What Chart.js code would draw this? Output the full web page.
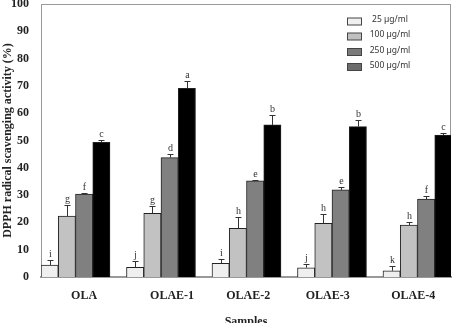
<!DOCTYPE html>
<html>
<head>
<meta charset="utf-8">
<script src="https://cdn.jsdelivr.net/npm/chart.js@4"></script>
<style>
  html, body { margin: 0; padding: 0; background: #fff; }
  canvas { display: block; }
</style>
</head>
<body>
<canvas id="chart" width="454" height="323"></canvas>
<script>
const samples = ["OLA", "OLAE-1", "OLAE-2", "OLAE-3", "OLAE-4"];
const concLabels = ["25 µg/ml", "100 µg/ml", "250 µg/ml", "500 µg/ml"];

// DPPH scavenging activity (%) per concentration
const act25 = [4.4, 3.5, 5.0, 3.4, 2.3];
const act100 = [22.3, 23.3, 17.8, 19.7, 19.0];
const act250 = [30.4, 43.7, 35.2, 31.9, 28.5];
const act500 = [49.3, 69.1, 55.7, 55.1, 52.0];

// standard deviation (upper bar only)
const err25 = [2.0, 2.4, 1.5, 1.4, 1.7];
const err100 = [4.0, 2.7, 4.3, 3.3, 1.0];
const err250 = [0.3, 1.3, 0.3, 1.0, 1.2];
const err500 = [0.9, 2.7, 3.6, 2.4, 0.6];

// significance letters
const sig25 = ["i", "j", "i", "j", "k"];
const sig100 = ["g", "g", "h", "h", "h"];
const sig250 = ["f", "d", "e", "e", "f"];
const sig500 = ["c", "a", "b", "b", "c"];

// where the sample names sit on the x axis (they are not quite centred under the groups)
const sampleTickPos = [0.1, 1.13, 2.02, 2.95, 3.95];

const serif = "'Liberation Serif', 'Times New Roman', serif";
const barColors = ["#efefef", "#c2c2c2", "#808080", "#000000"];
const legendColors = ["#f0f0f0", "#c0c0c0", "#7a7a7a", "#6c6c6c"];

function points(arr) {
  return arr.map((v, i) => ({ x: i, y: v }));
}

const errorBars = {
  id: "errorBars",
  afterDatasetsDraw(chart) {
    const ctx = chart.ctx;
    const yScale = chart.scales.y;
    ctx.save();
    ctx.strokeStyle = "#333";
    ctx.lineWidth = 1;
    ctx.fillStyle = "#333";
    ctx.font = "10px " + serif;
    ctx.textAlign = "center";
    ctx.textBaseline = "bottom";
    chart.data.datasets.forEach((ds, di) => {
      const meta = chart.getDatasetMeta(di);
      meta.data.forEach((bar, i) => {
        const yTop = Math.round(yScale.getPixelForValue(ds.data[i].y + ds.errors[i])) + 0.5;
        const yBar = yScale.getPixelForValue(ds.data[i].y);
        const x = Math.round(bar.x) + 0.5;
        ctx.beginPath();
        ctx.moveTo(x, yBar);
        ctx.lineTo(x, yTop);
        ctx.moveTo(x - 3, yTop);
        ctx.lineTo(x + 3, yTop);
        ctx.stroke();
        ctx.fillText(ds.letters[i], x, yTop - 1);
      });
    });
    ctx.restore();
  }
};

const frame = {
  id: "frame",
  beforeDatasetsDraw(chart) {
    const a = chart.chartArea;
    const ctx = chart.ctx;
    ctx.save();
    ctx.strokeStyle = "#999";
    ctx.lineWidth = 1;
    ctx.strokeRect(a.left + 0.5, a.top + 0.5, a.right - a.left - 1, a.bottom - a.top);
    ctx.restore();
  }
};

const boxLegend = {
  id: "boxLegend",
  afterDraw(chart) {
    const ctx = chart.ctx;
    const rows = [21.5, 36.5, 52, 67];
    ctx.save();
    ctx.font = "8.5px 'Noto Sans', sans-serif";
    ctx.textAlign = "center";
    ctx.textBaseline = "middle";
    concLabels.forEach((lab, i) => {
      ctx.fillStyle = legendColors[i];
      ctx.fillRect(347, rows[i] - 3.5, 14, 7);
      ctx.strokeStyle = "#444";
      ctx.strokeRect(347.5, rows[i] - 3.5, 14, 7);
      ctx.fillStyle = "#333";
      ctx.fillText(lab, 390, rows[i] - 1.5);
    });
    ctx.restore();
  }
};

const series = [act25, act100, act250, act500];
const errs = [err25, err100, err250, err500];
const sigs = [sig25, sig100, sig250, sig500];

new Chart(document.getElementById("chart"), {
  type: "bar",
  data: {
    datasets: series.map((s, k) => ({
      label: concLabels[k],
      data: points(s),
      errors: errs[k],
      letters: sigs[k],
      backgroundColor: barColors[k],
      borderColor: "#222",
      borderWidth: 1,
      barThickness: 17.25
    }))
  },
  options: {
    responsive: false,
    animation: false,
    devicePixelRatio: 1,
    layout: { padding: { top: 4, right: 3, bottom: 0, left: 0 } },
    plugins: {
      legend: { display: false },
      tooltip: { enabled: false }
    },
    scales: {
      x: {
        type: "linear",
        offset: false,
        min: -0.4035,
        max: 4.392,
        grid: { display: false, drawTicks: false },
        border: { display: true, color: "#999", width: 2 },
        afterBuildTicks: s => { s.ticks = sampleTickPos.map(p => ({ value: p })); },
        ticks: {
          autoSkip: false,
          maxRotation: 0,
          padding: 12,
          color: "#222",
          font: { family: serif, size: 12, weight: "bold" },
          callback: (v, i) => samples[i]
        },
        title: {
          display: true,
          text: "Samples",
          color: "#222",
          font: { family: serif, size: 12, weight: "bold" },
          padding: { top: 0, bottom: -6 }
        },
        afterFit: s => { s.height = 46; s.paddingLeft = 0; s.paddingRight = 0; }
      },
      y: {
        min: 0,
        max: 100,
        grid: { display: false, drawTicks: false },
        border: { display: true, color: "#999", width: 1 },
        ticks: {
          stepSize: 10,
          padding: 12,
          color: "#222",
          font: { family: serif, size: 12, weight: "bold" }
        },
        title: {
          display: true,
          text: "DPPH radical scavenging activity (%)",
          color: "#222",
          font: { family: serif, size: 12, weight: "bold" },
          padding: { top: 1, bottom: 0 }
        },
        afterFit: s => { s.width = 41; s.paddingTop = 0; s.paddingBottom = 0; }
      }
    }
  },
  plugins: [frame, errorBars, boxLegend]
});
</script>
</body>
</html>
